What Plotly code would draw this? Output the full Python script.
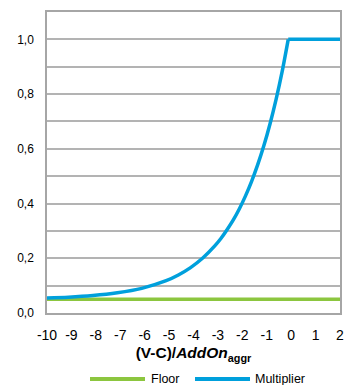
import plotly.graph_objects as go

# Data
x_vals = [-10, -9.12, -8.12, -7.12, -6.12, -5.12, -4.62, -4.12, -3.62, -3.12, -2.87, -2.62, -2.37, -2.12, -1.87, -1.62, -1.37, -1.12, -0.87, -0.62, -0.37, -0.12]
multiplier = [0.055, 0.058, 0.064, 0.074, 0.090, 0.118, 0.139, 0.166, 0.201, 0.246, 0.273, 0.305, 0.340, 0.381, 0.428, 0.481, 0.542, 0.611, 0.690, 0.780, 0.882, 1.0]
cap_x = [-0.12, 2]
cap_y = [1.0, 1.0]
floor_x = [-10, 2]
floor_y = [0.05, 0.05]

y_tickvals = [0, 0.2, 0.4, 0.6, 0.8, 1.0]
y_ticktext = ["0,0", "0,2", "0,4", "0,6", "0,8", "1,0"]
x_tickvals = list(range(-10, 3))
x_ticktext = ["-10", "-9", "-8", "-7", "-6", "-5", "-4", "-3", "-2", "-1", "0", "1", "2"]
series_names = ["Floor", "Multiplier"]

GRID = "#b3b3b3"
BLUE = "#00A0DC"
GREEN = "#8CC63F"
FONT = "Liberation Sans, Arial, sans-serif"

fig = go.Figure()
fig.add_trace(go.Scatter(x=floor_x, y=floor_y, mode="lines", name=series_names[0],
                         showlegend=False, line=dict(color=GREEN, width=3.5)))
fig.add_trace(go.Scatter(x=x_vals, y=multiplier, mode="lines", name=series_names[1],
                         showlegend=False,
                         line=dict(color=BLUE, width=3.5, shape="spline", smoothing=0.8)))
fig.add_trace(go.Scatter(x=cap_x, y=cap_y, mode="lines", name=series_names[1],
                         showlegend=False, line=dict(color=BLUE, width=3.5)))

# Manual legend (long line swatches like the reference)
L, T, PW, PH = 47, 12, 293, 301
def px(x):
    return (x - L) / PW
def py(y):
    return (T + PH - y) / PH

leg_y = 379
for (x0, x1, tx, name, col) in [(90, 145, 149, series_names[0], GREEN),
                                 (195, 250, 253, series_names[1], BLUE)]:
    fig.add_shape(type="line", xref="paper", yref="paper",
                  x0=px(x0), x1=px(x1), y0=py(leg_y), y1=py(leg_y),
                  line=dict(color=col, width=4))
    fig.add_annotation(xref="paper", yref="paper", x=px(tx), y=py(leg_y),
                       text=name, showarrow=False, xanchor="left", yanchor="middle",
                       font=dict(size=12.5, family=FONT, color="#000000"))

fig.update_layout(
    width=345, height=385,
    margin=dict(l=47, r=5, t=12, b=72, autoexpand=False),
    paper_bgcolor="white", plot_bgcolor="white",
    font=dict(family=FONT, color="#000000"),
    showlegend=False,
    xaxis=dict(range=[-10, 2], tickvals=x_tickvals, ticktext=x_ticktext,
               showgrid=False, zeroline=False,
               showline=True, linecolor="#a6a6a6", linewidth=1.5, mirror=True,
               ticks="", tickfont=dict(size=14), automargin=False, ticklabelstandoff=8,
               title=dict(text="<b>(V-C)/<i>AddOn</i><sub>aggr</sub></b>",
                          font=dict(size=15.5), standoff=6)),
    yaxis=dict(range=[0, 1.1], tickvals=y_tickvals, ticktext=y_ticktext,
               showgrid=True, gridcolor=GRID, gridwidth=1.5, zeroline=False,
               showline=True, linecolor="#a6a6a6", linewidth=1.5, mirror=True,
               ticks="", tickfont=dict(size=12), ticklabelstandoff=9, automargin=False,
               minor=dict(tickvals=[0.1, 0.3, 0.5, 0.7, 0.9], showgrid=True,
                          gridcolor=GRID, gridwidth=1.5)),
)

fig.write_html("out.html", config={"displayModeBar": False},
               post_script="document.body.style.margin='0';document.body.style.padding='0';")
